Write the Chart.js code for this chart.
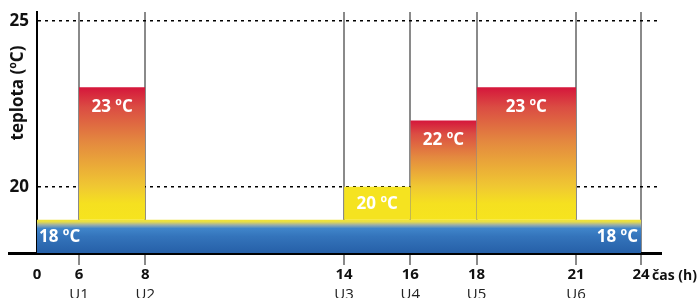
<!DOCTYPE html>
<html>
<head>
<meta charset="utf-8">
<script src="https://cdn.jsdelivr.net/npm/chart.js@4"></script>
<style>
  html, body { margin: 0; padding: 0; background: #fff; }
  #wrap { width: 700px; height: 298px; position: relative; }
</style>
</head>
<body>
<div id="wrap"><canvas id="myChart"></canvas></div>
<script>
// useky programu (hodiny) a jejich teploty
const segStart = [0, 6, 8, 14, 16, 18, 21];
const segEnd = [6, 8, 14, 16, 18, 21, 24];
const segTemp = [18, 23, 18, 20, 22, 23, 18];
const segLabels = ["18 ºC", "23 ºC", "", "20 ºC", "22 ºC", "23 ºC", "18 ºC"];

// popisky os
const hourTicks = [0, 6, 8, 14, 16, 18, 21, 24];
const programTicks = ["", "U1", "U2", "U3", "U4", "U5", "U6", ""];
const tempTicks = [20, 25];

// vzhled
const baseTemp = 18;
const bandTop = 19;   // horni okraj modreho pasu
const warmFrom = 20;  // odsud prechod do cervene
const hourKnots = [[0, 0], [6, 42], [21, 539], [24, 604], [24.6, 624]];
const FONT = "'Open Sans', sans-serif";

// osa x: noc a vecer jsou zhustene
class PiecewiseScale extends Chart.LinearScale {
  toUnits(v) {
    const k = this.options.knots;
    if (v <= k[0][0]) return k[0][1];
    for (let i = 1; i < k.length; i++) {
      if (v <= k[i][0]) {
        const t = (v - k[i - 1][0]) / (k[i][0] - k[i - 1][0]);
        return k[i - 1][1] + t * (k[i][1] - k[i - 1][1]);
      }
    }
    return k[k.length - 1][1];
  }
  getPixelForValue(value) {
    if (value === null || isNaN(value)) return NaN;
    const k = this.options.knots;
    return this.getPixelForDecimal(this.toUnits(value) / k[k.length - 1][1]);
  }
  getValueForPixel(pixel) {
    const k = this.options.knots;
    const u = this.getDecimalForPixel(pixel) * k[k.length - 1][1];
    for (let i = 1; i < k.length; i++) {
      if (u <= k[i][1]) {
        const t = (u - k[i - 1][1]) / (k[i][1] - k[i - 1][1]);
        return k[i - 1][0] + t * (k[i][0] - k[i - 1][0]);
      }
    }
    return k[k.length - 1][0];
  }
}
PiecewiseScale.id = "piecewise";
PiecewiseScale.defaults = Chart.LinearScale.defaults;
Chart.register(PiecewiseScale);

function yPix(chart, v) {
  return chart.scales.y.getPixelForValue(v);
}

function bandFill(ctx) {
  const chart = ctx.chart;
  if (!chart.chartArea) return "#2e6db5";
  const g = chart.ctx.createLinearGradient(0, yPix(chart, bandTop), 0, yPix(chart, baseTemp));
  g.addColorStop(0, "#efe23a");
  g.addColorStop(0.06, "#e6de46");
  g.addColorStop(0.15, "#9eb0a6");
  g.addColorStop(0.26, "#3f85ca");
  g.addColorStop(0.5, "#3474bb");
  g.addColorStop(1, "#2660a8");
  return g;
}

function warmFill(ctx) {
  const chart = ctx.chart;
  const t = ctx.dataset.data[0].y;
  if (!chart.chartArea || t <= warmFrom) return "#f5e320";
  const g = chart.ctx.createLinearGradient(0, yPix(chart, bandTop), 0, yPix(chart, t));
  const f = (warmFrom - bandTop) / (t - bandTop);
  g.addColorStop(0, "#f6e41e");
  g.addColorStop(f * 0.5, "#f5e020");
  g.addColorStop(f, "#f0c832");
  g.addColorStop(f + (1 - f) * 0.45, "#e4893f");
  g.addColorStop(f + (1 - f) * 0.8, "#db4c43");
  g.addColorStop(1, "#d5163b");
  return g;
}

const datasets = [];
segTemp.forEach((t, i) => {
  if (t <= baseTemp) return;
  datasets.push({
    data: [{ x: segStart[i], y: t }, { x: segEnd[i], y: t }],
    fill: { value: bandTop },
    backgroundColor: warmFill,
    borderColor: "transparent",
    borderWidth: 0,
    pointRadius: 0
  });
});
datasets.push({
  data: [{ x: segStart[0], y: bandTop }, { x: segEnd[segEnd.length - 1], y: bandTop }],
  fill: { value: baseTemp },
  backgroundColor: bandFill,
  borderColor: "transparent",
  borderWidth: 0,
  pointRadius: 0
});

const extras = {
  id: "extras",
  afterDraw(chart) {
    const { ctx, chartArea } = chart;
    const x = chart.scales.x, y = chart.scales.y;
    ctx.save();

    // prodlouzeni osy x doleva
    const yAxis = Math.round(x.top) + 0.5;
    ctx.strokeStyle = "#000";
    ctx.lineWidth = 3;
    ctx.beginPath();
    ctx.moveTo(chartArea.left - 29, yAxis);
    ctx.lineTo(chartArea.left, yAxis);
    ctx.stroke();

    // teploty v usecich
    ctx.fillStyle = "#fff";
    ctx.font = "bold 17px " + FONT;
    ctx.textBaseline = "alphabetic";
    const yBand = y.getPixelForValue(bandTop);
    const yBase = y.getPixelForValue(baseTemp);
    segLabels.forEach((txt, i) => {
      if (!txt) return;
      const x0 = x.getPixelForValue(segStart[i]);
      const x1 = x.getPixelForValue(segEnd[i]);
      let tx, ty;
      if (segTemp[i] > baseTemp) {
        const yTop = y.getPixelForValue(segTemp[i]);
        ctx.textAlign = "center";
        tx = (x0 + x1) / 2;
        ty = Math.min(yTop + 24.5, (yTop + yBand) / 2 + 6);
      } else {
        ty = (yBand + yBase) / 2 + 6;
        if (i === 0) { ctx.textAlign = "left"; tx = x0 + 2; }
        else { ctx.textAlign = "right"; tx = x1 - 3; }
      }
      ctx.fillText(txt, tx, ty);
    });

    // nazev osy x
    ctx.fillStyle = "#111";
    ctx.font = "bold 14px " + FONT;
    ctx.textAlign = "left";
    ctx.textBaseline = "middle";
    ctx.fillText("čas (h)", x.getPixelForValue(24) + 11, x.top + 23.5);

    // nazev osy y
    ctx.font = "bold 17px " + FONT;
    ctx.translate(chartArea.left - 19, chartArea.top + 81);
    ctx.rotate(-Math.PI / 2);
    ctx.textAlign = "center";
    ctx.fillText("teplota (ºC)", 0, 0);
    ctx.restore();
  }
};

new Chart(document.getElementById("myChart"), {
  type: "line",
  data: { datasets },
  options: {
    responsive: true,
    maintainAspectRatio: false,
    animation: false,
    events: [],
    layout: { padding: { top: 12, right: 39, left: 0, bottom: 0 } },
    plugins: { legend: { display: false }, tooltip: { enabled: false } },
    scales: {
      x: {
        type: "piecewise",
        min: 0, max: 24.6, knots: hourKnots, z: 1, weight: 0,
        afterBuildTicks: (s) => { s.ticks = hourTicks.map((v) => ({ value: v })); },
        afterFit: (s) => { s.height = 30; s.paddingLeft = 0; s.paddingRight = 0; },
        grid: {
          color: (c) => (c.tick && c.tick.value === 0 ? "transparent" : "#8a8a8a"),
          lineWidth: 2,
          tickLength: 12
        },
        border: { display: true, color: "#000", width: 3 },
        ticks: {
          autoSkip: false, maxRotation: 0, padding: 1, color: "#111",
          font: { family: FONT, size: 15, weight: "bold" },
          callback: (v) => String(v)
        }
      },
      x2: {
        type: "piecewise", position: "bottom",
        min: 0, max: 24.6, knots: hourKnots, z: 1, weight: 1,
        afterBuildTicks: (s) => { s.ticks = hourTicks.map((v) => ({ value: v })); },
        afterFit: (s) => { s.height = 15; s.paddingLeft = 0; s.paddingRight = 0; },
        grid: { display: false, drawTicks: false },
        border: { display: false },
        ticks: {
          autoSkip: false, maxRotation: 0, padding: 3, color: "#222",
          font: { family: FONT, size: 15 },
          callback: (v, i) => programTicks[i]
        }
      },
      y: {
        min: baseTemp, max: 25.27, z: 1,
        afterBuildTicks: (s) => { s.ticks = tempTicks.map((v) => ({ value: v })); },
        afterFit: (s) => { s.width = 37; s.paddingTop = 0; s.paddingBottom = 0; },
        grid: { color: "#000", lineWidth: 1.5, drawTicks: false },
        border: { display: true, color: "#000", width: 2, dash: [3, 4] },
        ticks: {
          padding: 8, color: "#111",
          font: { family: FONT, size: 17, weight: "bold" }
        }
      }
    }
  },
  plugins: [extras]
});
</script>
</body>
</html>
